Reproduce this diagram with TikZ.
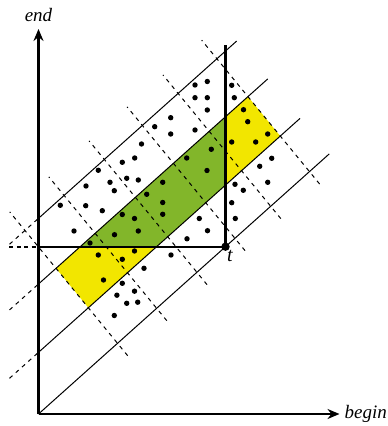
\documentclass[tikz,border=0pt]{standalone}
\usepackage{fontspec}
\setmainfont{Liberation Serif}
\usetikzlibrary{arrows.meta}
\definecolor{bandyellow}{RGB}{242,230,0}
\definecolor{bandgreen}{RGB}{130,182,42}
\tikzset{
  axis/.style={line width=1.1pt, -{Stealth[length=6pt,width=5pt]}},
  axislabel/.style={font=\fontsize{9.5}{11}\selectfont\itshape, inner sep=2pt},
  diag/.style={line width=0.5pt},
  guide/.style={line width=0.5pt, dash pattern=on 2pt off 2.2pt},
  tline/.style={line width=1.1pt},
  slant/.style={x={(0.3727pt,0.3334pt)},y={(-0.317pt,0.3865pt)}},
}
\begin{document}
\begin{tikzpicture}[x=0.5pt,y=0.5pt]
    \useasboundingbox (-38.5,-12) rectangle (348.5,414);
    \coordinate (o) at (0,0);
    \coordinate (t) at (187,167.3);
    \coordinate (tend) at (0,167.3);
    \coordinate (ttop) at (187,369);
    % band cells (yellow), the part with begin <= t <= end in green
    \begin{scope}[slant]
        \fill[bandyellow] (106,46) -- (363.5,46) -- (363.5,97) -- (106,97) -- cycle;
    \end{scope}
    \begin{scope}
        \clip (t) rectangle (-40,400);
        \begin{scope}[slant]
            \fill[bandgreen] (106,46) -- (363.5,46) -- (363.5,97) -- (106,97) -- cycle;
        \end{scope}
    \end{scope}
    % duration lines and the grid across them
    \begin{scope}[slant]
        \draw[diag] (0,0) -- (390,0);
        \foreach \w/\s/\a in {46/0.2/39.1, 97/43.6/82.5, 146/85.3/124.2} {
            \draw[guide] (\s,\w) -- (\a,\w);
            \draw[diag] (\a,\w) -- (390,\w);
        }
        \foreach \u in {106,158.5,212.5,263.5,311.5,363.5}
            \draw[guide] (\u,-16) -- (\u,170);
    \end{scope}
    % axes
    \draw[axis] (o) -- (0,385) node[above, axislabel, inner sep=3pt] (endl) {end};
    \draw[axis] (o) -- (301,0) node[right, axislabel] (beginl) {begin};
    % query point
    \draw[tline, dash pattern=on 2pt off 1.7pt] (-29,167.3) -- (tend);
    \draw[tline] (tend) -- (t) -- (ttop);
    % intervals
    \foreach \x/\y in {156.5/329, 168.8/332.5, 156.5/316.3, 168.8/316.3, 168.8/304,
        193.2/328.7, 195.8/316.3, 132.2/296.3, 116.2/287.3, 132.2/280, 156.5/284,
        103/270, 96.2/256, 83.8/251.7, 59.8/243.7, 71.5/231.7, 88.2/235.7,
        99.8/234, 75.8/223.3, 47.5/228, 21.8/208.7, 47.2/208.3, 63.8/203.3,
        124.2/231.7, 148.2/256, 108.2/219.7, 124.2/211.5, 83.8/199.5, 96/195.5,
        124.2/199.7, 172.8/264.7, 168.5/243.5, 160.8/195.5, 51.5/171, 35.5/183,
        76/179.3, 99.8/183, 205/304.3, 209.2/292.3, 229.2/280, 193.2/272,
        217.2/272, 233.2/255.7, 221.2/247.7, 229.2/231.7, 196.5/229.7,
        204.8/223.7, 193.2/211.3, 196.8/195.5, 169/183.3, 148.5/175.2,
        132.5/159, 105.5/145.7, 59.8/159, 83.8/154.7, 65/134, 96/163,
        83.8/130.7, 96/122.8, 78.4/118.8, 99.2/111.8, 88.2/110.7, 75.8/98.5}
        \fill (\x,\y) circle (1.35pt);
    \fill (t) circle (2.1pt);
    \node (tl) at (191.5,158.5) {\textit{t}};
\end{tikzpicture}
\end{document}
